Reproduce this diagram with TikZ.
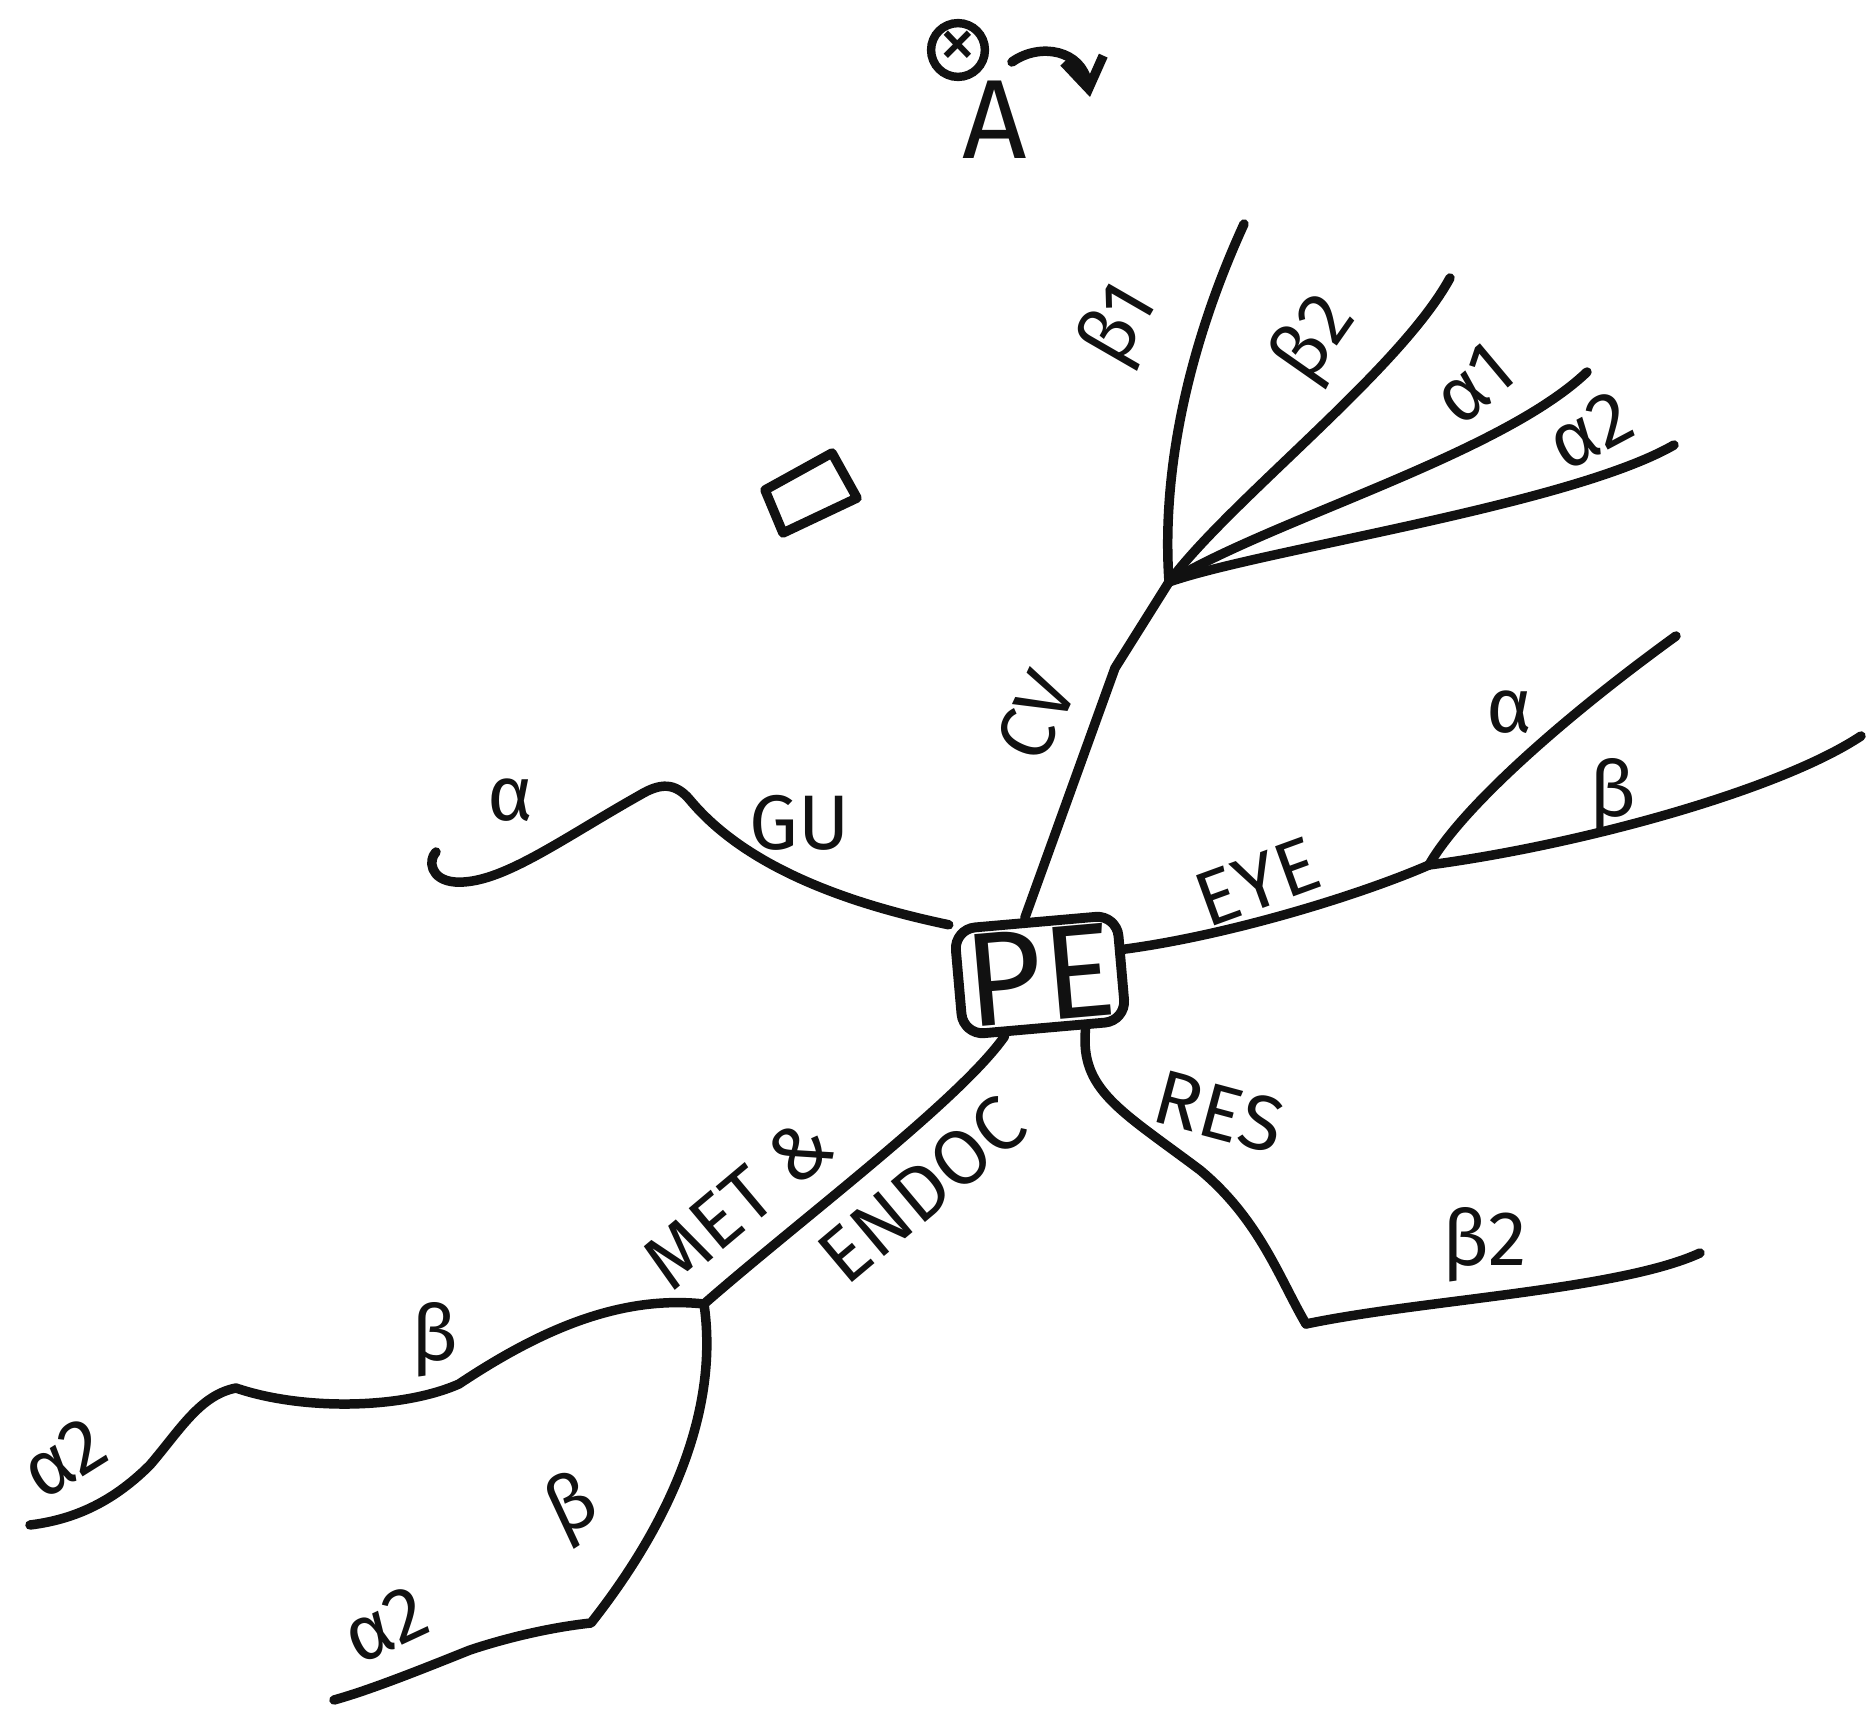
\documentclass[tikz,border=0pt]{standalone}
\usepackage{fontspec}
\setmainfont{Fira Sans}
\usetikzlibrary{arrows.meta}
\definecolor{ink}{HTML}{111111}

\begin{document}
\begin{tikzpicture}[
    x=0.01cm, y=-0.01cm,
    font=\fontsize{22}{24}\selectfont,
    text=ink,
    hub/.style={
        draw=ink,
        line width=2.8pt,
        rounded corners=6pt,
        minimum width=1.55cm,
        minimum height=1.02cm,
        inner sep=2pt,
        rotate=5,
        font=\fontsize{38}{40}\selectfont
    },
    limb/.style={draw=ink, line width=2.7pt, line cap=round, line join=round},
    tag/.style={inner sep=1pt},
    arrow/.style={-{Straight Barb[length=3mm,width=4mm]}, limb}
]
\useasboundingbox (0,0) rectangle (1871,1727);

\node[hub] (pe) at (1040,975) {PE};

\coordinate (cvbend) at (1115,668);
\coordinate (cvfork) at (1169,582);
\coordinate (cvbone) at (1244,224);
\coordinate (cvbtwo) at (1450,278);
\coordinate (cvaone) at (1587,372);
\coordinate (cvatwo) at (1674,445);
\draw[limb] (pe.100) -- (cvbend) -- (cvfork);
\draw[limb] (cvfork) .. controls (1160,450) and (1200,320) .. (cvbone);
\draw[limb] (cvfork) .. controls (1230,500) and (1400,370) .. (cvbtwo);
\draw[limb] (cvfork) .. controls (1270,520) and (1500,455) .. (cvaone);
\draw[limb] (cvfork) .. controls (1260,550) and (1570,505) .. (cvatwo);
\node[tag, rotate=65] (cv) at (1036,716) {CV};
\node[tag, rotate=60] (bone) at (1121,326) {β1};
\node[tag, rotate=55] (btwo) at (1316,340) {β2};
\node[tag, rotate=40] (aone) at (1474,384) {α1};
\node[tag, rotate=28] (atwo) at (1590,430) {α2};

\coordinate (gupeak) at (640,795);
\coordinate (gutip) at (436,852);
\draw[limb] (pe.north west) .. controls (830,900) and (740,860) .. (690,800)
    .. controls (675,782) and (660,783) .. (gupeak)
    .. controls (560,840) and (500,885) .. (455,882)
    .. controls (430,880) and (428,860) .. (gutip);
\node[tag] (gu) at (800,823) {GU};
\node[tag] (gualpha) at (510,800) {α};

\coordinate (eyefork) at (1429,865);
\coordinate (eyea) at (1676,636);
\coordinate (eyeb) at (1861,736);
\draw[limb] (pe.12) .. controls (1230,935) and (1360,895) .. (eyefork);
\draw[limb] (eyefork) .. controls (1460,810) and (1560,720) .. (eyea);
\draw[limb] (eyefork) .. controls (1580,845) and (1780,790) .. (eyeb);
\node[tag, rotate=20] (eye) at (1257,882) {EYE};
\node[tag] (eyealpha) at (1509,712) {α};
\node[tag] (eyebeta) at (1613,796) {β};

\coordinate (resbend) at (1306,1324);
\coordinate (restip) at (1700,1253);
\draw[limb] (pe.-55) .. controls (1080,1090) and (1120,1110) .. (1200,1170)
    .. controls (1260,1220) and (1280,1280) .. (resbend);
\draw[limb] (resbend) .. controls (1420,1300) and (1620,1290) .. (restip);
\node[tag, rotate=-15] (res) at (1219,1112) {RES};
\node[tag] (resbeta) at (1485,1245) {β2};

\coordinate (metfork) at (704,1304);
\draw[limb] (pe.-125) .. controls (960,1100) and (800,1220) .. (metfork);
\node[tag, rotate=40] (met) at (738,1203) {MET \&};
\node[tag, rotate=40] (endoc) at (922,1190) {ENDOC};

\coordinate (upkink) at (236,1388);
\coordinate (uptip) at (30,1525);
\draw[limb] (metfork) .. controls (620,1295) and (540,1330) .. (459,1384)
    .. controls (400,1410) and (300,1410) .. (upkink)
    .. controls (200,1395) and (180,1430) .. (150,1465)
    .. controls (110,1505) and (70,1520) .. (uptip);
\node[tag] (upbeta) at (435,1340) {β};
\node[tag, rotate=32] (upalpha) at (64,1458) {α2};

\coordinate (lowkink) at (591,1623);
\coordinate (lowtip) at (334,1700);
\draw[limb] (metfork) .. controls (718,1400) and (680,1510) .. (lowkink)
    .. controls (545,1628) and (500,1640) .. (470,1650)
    .. controls (420,1670) and (370,1690) .. (lowtip);
\node[tag, rotate=25] (lowbeta) at (573,1509) {β};
\node[tag, rotate=25] (lowalpha) at (385,1625) {α2};

\node[draw=ink, circle, line width=2.4pt, minimum size=0.5cm, inner sep=0pt] (cross) at (958,50) {×};
\node[tag, font=\fontsize{32}{34}\selectfont] (bigA) at (995,120) {A};
\coordinate (arrowstart) at (1012,62);
\coordinate (arrowend) at (1090,97);
\draw[arrow] (arrowstart) .. controls (1040,42) and (1082,50) .. (arrowend);

\draw[limb] (765,490) -- (832,453) -- (857,498) -- (783,533) -- cycle;

\end{tikzpicture}
\end{document}
